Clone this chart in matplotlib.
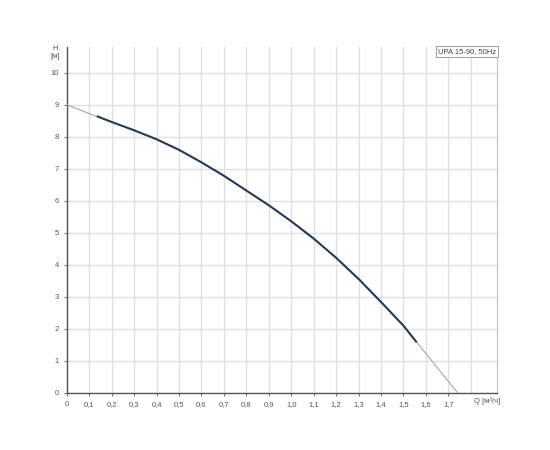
import matplotlib
matplotlib.use("Agg")
import matplotlib.pyplot as plt

plt.rcParams["font.family"] = ["Liberation Sans", "DejaVu Sans"]

# Full pump curve (thin grey)
q_full = [0.0, 0.1, 0.2, 0.3, 0.4, 0.5, 0.6, 0.7, 0.8, 0.9, 1.0, 1.1, 1.2, 1.3, 1.4, 1.5, 1.559, 1.6, 1.7, 1.742]
h_full = [9.0, 8.72, 8.46, 8.2, 7.92, 7.59, 7.2, 6.78, 6.32, 5.86, 5.36, 4.82, 4.22, 3.56, 2.84, 2.1, 1.58, 1.23, 0.36, 0.0]

# Operating range (thick dark)
q_op = [0.134, 0.2, 0.3, 0.4, 0.5, 0.6, 0.7, 0.8, 0.9, 1.0, 1.1, 1.2, 1.3, 1.4, 1.5, 1.559]
h_op = [8.64, 8.46, 8.2, 7.92, 7.59, 7.2, 6.78, 6.32, 5.86, 5.36, 4.82, 4.22, 3.56, 2.84, 2.1, 1.58]

x_ticks = [0.0, 0.1, 0.2, 0.3, 0.4, 0.5, 0.6, 0.7, 0.8, 0.9, 1.0, 1.1, 1.2, 1.3, 1.4, 1.5, 1.6, 1.7]
x_labels = ["0", "0,1", "0,2", "0,3", "0,4", "0,5", "0,6", "0,7", "0,8", "0,9", "1,0",
            "1,1", "1,2", "1,3", "1,4", "1,5", "1,6", "1,7"]
x_extra_grid = [1.8]
y_ticks = [0, 1, 2, 3, 4, 5, 6, 7, 8, 9, 10]
legend_text = "UPA 15-90, 50Hz"

fig = plt.figure(figsize=(5.5, 4.5), dpi=100)
ax = fig.add_axes([0.1213, 0.1267, 0.7817, 0.7689])

ax.set_xlim(0, 1.915)
ax.set_ylim(0, 10.8)

ax.set_xticks(x_ticks)
ax.set_xticklabels(x_labels)
ax.set_yticks(y_ticks)
ax.set_yticklabels([str(v) for v in y_ticks])
ax.grid(which="major", color="#dedede", linewidth=0.9)
for xv in x_extra_grid:
    ax.axvline(xv, color="#dedede", linewidth=0.9, zorder=0.5)
ax.set_axisbelow(True)

ax.plot(q_full, h_full, color="#a8a8a8", linewidth=0.8, zorder=3)
ax.plot(q_op, h_op, color="#1d3c5e", linewidth=1.5, zorder=4, solid_capstyle="butt")

ax.tick_params(which="major", labelsize=5.5, colors="#555555", length=2.5, width=0.6, pad=3)

ax.spines["top"].set_visible(False)
ax.spines["right"].set_color("#c8c8c8")
ax.spines["right"].set_linewidth(0.9)
for s in ["left", "bottom"]:
    ax.spines[s].set_color("#555555")
    ax.spines[s].set_linewidth(1.0)

# axis labels
fig.text(55 / 550, 1 - 48 / 450, "H", fontsize=5.5, color="#555555", ha="center", va="center")
fig.text(55 / 550, 1 - 56 / 450, "[м]", fontsize=5.5, color="#555555", ha="center", va="center")
fig.text(487 / 550, 1 - 401 / 450, "Q [м³/ч]", fontsize=5.5, color="#555555", ha="center", va="center")

# legend box
ax.text(1.912, 10.78, legend_text, fontsize=5.5, color="#444444", ha="right", va="top",
        bbox=dict(boxstyle="square,pad=0.25", facecolor="white", edgecolor="#999999", linewidth=0.7),
        zorder=6)

fig.savefig("out.png", dpi=100)
